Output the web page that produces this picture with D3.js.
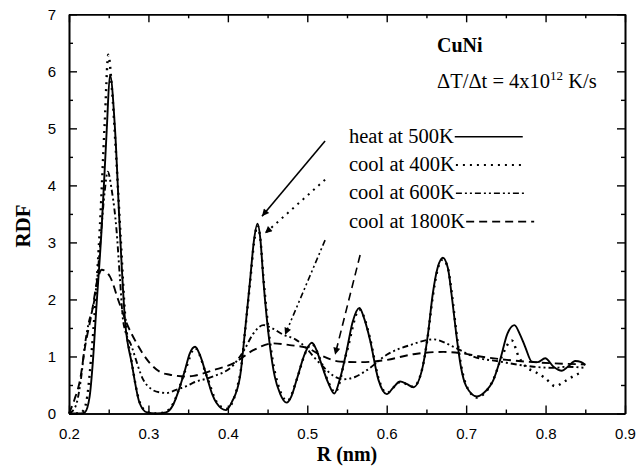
<!DOCTYPE html>
<html>
<head>
<meta charset="utf-8">
<script src="https://cdn.jsdelivr.net/npm/d3@7"></script>
<style>
body{margin:0;background:#fff}
</style>
</head>
<body>
<div id="container"></div>
<script>
// RDF curves, [R (nm), RDF]
const heat500 = [[0.200,0],[0.215,0],[0.220,0.02],[0.226,0.3],[0.230,0.9],[0.234,1.76],[0.241,3.22],[0.2475,4.97],[0.2516,5.94],[0.258,4.97],[0.264,3.22],[0.2705,1.64],[0.279,0.88],[0.289,0.18],[0.298,0.02],[0.310,0],[0.322,0.02],[0.331,0.15],[0.338,0.4],[0.346,0.76],[0.352,1.05],[0.3587,1.17],[0.365,1.02],[0.3734,0.65],[0.380,0.35],[0.386,0.18],[0.3977,0.06],[0.405,0.2],[0.4154,0.65],[0.4217,1.46],[0.428,2.34],[0.433,3.05],[0.4372,3.33],[0.441,3.05],[0.4447,2.34],[0.4531,1.17],[0.459,0.65],[0.4657,0.35],[0.474,0.19],[0.480,0.3],[0.4868,0.6],[0.4972,1.06],[0.5057,1.24],[0.512,1.1],[0.516,0.94],[0.5266,0.53],[0.534,0.35],[0.541,0.6],[0.5497,1.11],[0.557,1.6],[0.5656,1.85],[0.572,1.65],[0.579,1.29],[0.5896,0.59],[0.600,0.34],[0.608,0.45],[0.6169,0.56],[0.625,0.52],[0.6336,0.46],[0.645,0.8],[0.652,1.4],[0.658,2.1],[0.664,2.55],[0.6707,2.73],[0.677,2.55],[0.682,2.05],[0.6875,1.4],[0.693,0.85],[0.700,0.48],[0.7135,0.30],[0.722,0.36],[0.7344,0.59],[0.7428,0.94],[0.752,1.4],[0.7608,1.55],[0.768,1.38],[0.7743,1.17],[0.7827,0.91],[0.790,0.9],[0.7995,0.97],[0.810,0.82],[0.8205,0.75],[0.828,0.82],[0.8373,0.92],[0.845,0.9],[0.850,0.85]];

const cool400 = [[0.200,0],[0.213,0],[0.218,0.05],[0.223,0.3],[0.228,1.0],[0.233,1.9],[0.239,3.3],[0.245,5.1],[0.2495,6.29],[0.254,5.7],[0.259,4.6],[0.265,3.1],[0.2705,1.75],[0.279,0.9],[0.289,0.2],[0.298,0.03],[0.310,0],[0.322,0.03],[0.331,0.17],[0.346,0.74],[0.3587,1.15],[0.3734,0.66],[0.386,0.2],[0.398,0.08],[0.4154,0.68],[0.4217,1.45],[0.428,2.3],[0.433,3.0],[0.4372,3.3],[0.441,3.05],[0.4447,2.4],[0.4531,1.25],[0.4657,0.4],[0.475,0.22],[0.4868,0.6],[0.4972,1.05],[0.5057,1.22],[0.516,0.96],[0.5266,0.55],[0.535,0.37],[0.5497,1.08],[0.5656,1.82],[0.579,1.32],[0.5896,0.62],[0.600,0.36],[0.6169,0.55],[0.6336,0.47],[0.645,0.8],[0.652,1.38],[0.658,2.05],[0.664,2.52],[0.6707,2.7],[0.677,2.55],[0.682,2.1],[0.6875,1.45],[0.693,0.9],[0.700,0.5],[0.7135,0.28],[0.722,0.34],[0.7344,0.6],[0.745,1.0],[0.7575,1.28],[0.766,1.0],[0.775,0.82],[0.787,0.73],[0.7995,0.62],[0.812,0.48],[0.8247,0.57],[0.837,0.67],[0.845,0.72]];

const cool600 = [[0.200,0],[0.205,0.05],[0.210,0.2],[0.215,0.6],[0.220,1.2],[0.225,1.6],[0.230,1.85],[0.235,2.3],[0.240,3.1],[0.245,3.9],[0.2487,4.24],[0.254,3.9],[0.2598,3.22],[0.264,2.4],[0.2684,1.6],[0.279,1.17],[0.2936,0.59],[0.3045,0.42],[0.3145,0.37],[0.323,0.36],[0.3356,0.42],[0.348,0.48],[0.3566,0.54],[0.3817,0.65],[0.407,0.85],[0.420,1.1],[0.432,1.4],[0.4447,1.55],[0.455,1.5],[0.470,1.38],[0.485,1.3],[0.4993,1.14],[0.5077,1.0],[0.520,0.82],[0.533,0.66],[0.5455,0.6],[0.560,0.64],[0.575,0.76],[0.600,1.03],[0.6295,1.2],[0.659,1.3],[0.684,1.17],[0.709,1.0],[0.7428,0.91],[0.785,0.82],[0.810,0.8],[0.8268,0.82],[0.850,0.8]];

const cool1800 = [[0.200,0],[0.207,0.25],[0.2139,0.59],[0.2202,1.17],[0.2286,1.76],[0.2349,2.28],[0.2412,2.52],[0.2516,2.4],[0.262,1.99],[0.2727,1.58],[0.2852,1.23],[0.302,0.88],[0.3145,0.73],[0.327,0.68],[0.346,0.65],[0.3566,0.66],[0.3817,0.76],[0.407,0.88],[0.432,1.11],[0.4573,1.23],[0.478,1.2],[0.500,1.15],[0.516,1.03],[0.5413,0.91],[0.5665,0.9],[0.600,0.94],[0.6336,1.04],[0.6714,1.08],[0.6924,1.06],[0.7177,1.0],[0.7512,0.94],[0.785,0.9],[0.810,0.88],[0.850,0.86]];

const seriesNames = ["heat at 500K", "cool at 400K", "cool at 600K", "cool at 1800K"];
const xMajor = [0.2, 0.3, 0.4, 0.5, 0.6, 0.7, 0.8, 0.9];
const xMinor = [0.25, 0.35, 0.45, 0.55, 0.65, 0.75, 0.85];
const yMajor = [0, 1, 2, 3, 4, 5, 6, 7];
const yMinor = [0.5, 1.5, 2.5, 3.5, 4.5, 5.5, 6.5];
// arrow from label area to each curve, [[R0, g0], [R1, g1]]
const arrowEnds = [
  [[0.5224, 4.78], [0.443, 3.46]],
  [[0.5224, 4.10], [0.4468, 3.16]],
  [[0.5224, 3.04], [0.472, 1.38]],
  [[0.5665, 2.78], [0.535, 1.03]]
];

const W = 636, H = 476;
const mLeft = 69, mRight = 625, mTop = 14.3, mBottom = 413.5;
const dashes = [null, "2,5", "6,3,2,3,2,3", "8,5"];
const allSeries = [heat500, cool400, cool600, cool1800];
const serif = "'Liberation Serif', 'Times New Roman', serif";

const svg = d3.select("#container").append("svg")
    .attr("width", W).attr("height", H)
    .style("font-family", "'Liberation Sans', Arial, sans-serif");

const x = d3.scaleLinear().domain([0.2, 0.9]).range([mLeft, mRight]);
const y = d3.scaleLinear().domain([0, 7]).range([mBottom, mTop]);

svg.append("defs").append("marker")
    .attr("id", "head")
    .attr("viewBox", "0 0 10 10")
    .attr("refX", 10).attr("refY", 5)
    .attr("markerWidth", 9).attr("markerHeight", 7)
    .attr("markerUnits", "userSpaceOnUse")
    .attr("orient", "auto")
  .append("path").attr("d", "M0,0 L10,5 L0,10 Z").attr("fill", "#000");

// curves
const line = d3.line()
    .x(d => x(d[0]))
    .y(d => y(d[1]))
    .curve(d3.curveMonotoneX);

svg.append("g").selectAll("path")
  .data(allSeries)
  .enter().append("path")
    .attr("d", line)
    .attr("fill", "none")
    .attr("stroke", "#000")
    .attr("stroke-width", (d, i) => i == 1 ? 2.4 : 1.9)
    .attr("stroke-dasharray", (d, i) => dashes[i]);

// arrows
svg.append("g").selectAll("line")
  .data(arrowEnds)
  .enter().append("line")
    .attr("x1", d => x(d[0][0])).attr("y1", d => y(d[0][1]))
    .attr("x2", d => x(d[1][0])).attr("y2", d => y(d[1][1]))
    .attr("stroke", "#000")
    .attr("stroke-width", (d, i) => i == 1 ? 2 : 1.6)
    .attr("stroke-dasharray", (d, i) => dashes[i])
    .attr("marker-end", "url(#head)");

// axes, ticks pointing inward on all four sides
function drawAxis(axisFn, scale, major, minor, tx, ty, labels) {
  const g = svg.append("g").attr("transform", `translate(${tx},${ty})`);
  g.call(axisFn(scale).tickValues(major).tickSizeInner(-8).tickSizeOuter(0)
      .tickPadding(labels ? 15 : 0)
      .tickFormat(labels ? (d => d) : ""));
  g.append("g").call(axisFn(scale).tickValues(minor).tickSizeInner(-4).tickSizeOuter(0).tickFormat(""));
  g.selectAll(".domain").attr("stroke-width", 1.6);
  g.selectAll("line").attr("stroke-width", 1.4);
  g.selectAll("text").style("font-size", "15px").attr("fill", "#000");
  return g;
}
drawAxis(d3.axisBottom, x, xMajor, xMinor, 0, mBottom, true);
drawAxis(d3.axisTop, x, xMajor, xMinor, 0, mTop, false);
drawAxis(d3.axisLeft, y, yMajor, yMinor, mLeft, 0, true).selectAll(".tick text").attr("x", -13);
drawAxis(d3.axisRight, y, yMajor, yMinor, mRight, 0, false);

// axis titles
svg.append("text")
    .attr("x", (mLeft + mRight) / 2).attr("y", 461)
    .attr("text-anchor", "middle")
    .style("font-family", serif)
    .style("font-weight", "bold").style("font-size", "20px")
    .text("R (nm)");
svg.append("text")
    .attr("transform", "translate(30,226) rotate(-90)")
    .attr("text-anchor", "middle")
    .style("font-family", serif)
    .style("font-weight", "bold").style("font-size", "21px")
    .text("RDF");

// annotation
svg.append("text")
    .attr("x", 437).attr("y", 52)
    .style("font-family", serif).style("font-weight", "bold").style("font-size", "20px")
    .text("CuNi");
const rate = svg.append("text")
    .attr("x", 437).attr("y", 88)
    .style("font-family", serif).style("font-size", "20.5px");
rate.append("tspan").text("\u0394T/\u0394t = 4x10");
rate.append("tspan").attr("dy", -8).style("font-size", "13px").text("12");
rate.append("tspan").attr("dy", 8).text(" K/s");

// legend: label followed by a line sample
const legend = svg.append("g").selectAll("g")
  .data(seriesNames)
  .enter().append("g")
    .attr("transform", (d, i) => `translate(349,${142.7 + i * 28.3})`);
legend.append("text")
    .style("font-family", serif).style("font-size", "20.5px")
    .text(d => d);
legend.each(function(d, i) {
  const g = d3.select(this);
  const w = g.select("text").node().getComputedTextLength();
  g.append("line")
    .attr("x1", w + 1).attr("x2", w + 69)
    .attr("y1", -6).attr("y2", -6)
    .attr("stroke", "#000")
    .attr("stroke-width", i == 1 ? 2 : 1.6)
    .attr("stroke-dasharray", dashes[i]);
});
</script>
</body>
</html>
